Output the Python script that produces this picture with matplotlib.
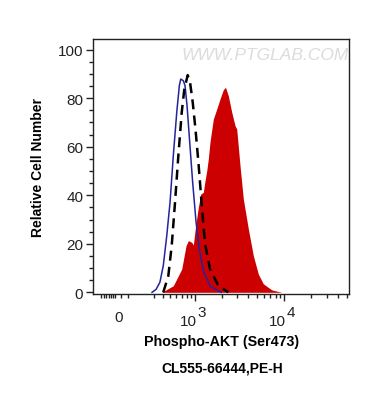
import numpy as np
import matplotlib
matplotlib.use("Agg")
import matplotlib.pyplot as plt
import matplotlib.transforms as mtransforms

plt.rcParams['font.family'] = ['Liberation Sans', 'DejaVu Sans']

# histogram traces (x in fluorescence units, y in % of max)
blue_x = [277, 320, 364, 406, 452, 499, 549, 606, 652, 678, 728, 763, 806,
          862, 935, 1027, 1126, 1268, 1503, 1974]
blue_y = [0, 1.2, 4.1, 11, 23.3, 37.1, 56.3, 74.2, 85.2, 87.9, 87.2, 85.2, 77,
          63, 46, 29, 17, 8, 2.4, 0]

dashed_x = [406, 474, 524, 577, 634, 697, 749, 821, 874, 940, 1013, 1097,
            1194, 1302, 1483, 1841, 2383]
dashed_y = [0, 6.8, 19.2, 37.1, 56.3, 74.2, 83.8, 89.5, 86.6, 78.3, 67, 53,
            36, 20, 9.6, 2.7, 0]

red_x = [386, 549, 697, 784, 835, 915, 955, 1013, 1091, 1163, 1245, 1302,
         1361, 1419, 1483, 1617, 1766, 1923, 2095, 2217, 2383, 2602, 2832,
         2958, 3220, 3504, 3987, 4530, 5150, 5852, 7259, 9376]
red_y = [0, 2.7, 9.6, 19.2, 21.3, 20.6, 19.5, 27, 35, 40.5, 41.2, 46,
         50, 55, 62, 71.4, 75.5, 79.7, 83.5, 84.5, 81, 74.2, 68.7,
         67.3, 52.2, 38.5, 26.1, 15.1, 7.5, 3.5, 1, 0]

x_major = [0, 1000, 10000]
x_exponents = ['', '3', '4']
x_minor = [-140, -115, -100, -75, -60, -45, -30, 15, 70,
           300, 400, 500, 600, 700, 800, 900,
           2000, 3000, 4000, 5000, 6000, 7000, 8000, 9000,
           20000, 30000, 40000, 50000]

# biexponential-like display scale
W = 292.0
def fwd(x):
    return np.arcsinh(np.asarray(x, dtype=float) / W) / np.log(10)

def inv(y):
    return W * np.sinh(np.asarray(y, dtype=float) * np.log(10))

fig = plt.figure(figsize=(3.7, 4.06), dpi=100)
ax = fig.add_axes([0.2514, 0.2734, 0.6919, 0.6281])
ax.set_xscale('function', functions=(fwd, inv))

ax.fill_between(red_x, red_y, 0, color='#cc0000', linewidth=0, zorder=1)
ax.plot(dashed_x, dashed_y, color='black', linewidth=1.8,
        dashes=(4, 2.5), zorder=3)
ax.plot(blue_x, blue_y, color='#24249c', linewidth=1.1, zorder=2)

ax.set_xlim(-209, 52470)
ax.set_ylim(-0.7, 104.4)

ax.set_xticks(x_major)
ax.set_xticklabels([''] * len(x_major))
ax.set_xticks(x_minor, minor=True)
ax.xaxis.get_major_ticks()[0].tick1line.set_visible(False)
ax.set_yticks([0, 20, 40, 60, 80, 100])
ax.set_yticks(np.arange(0, 105, 5), minor=True)

ax.tick_params(axis='both', which='major', direction='out', length=5,
               width=1, labelsize=11, colors='#222222')
ax.tick_params(axis='both', which='minor', direction='out', length=3,
               width=1, colors='#222222')
ax.tick_params(axis='y', which='major', pad=2)
for s in ax.spines.values():
    s.set_linewidth(1)
    s.set_color('#222222')

# x tick labels: "0", and 10 with a large raised exponent
blend = mtransforms.blended_transform_factory(ax.transData, ax.transAxes)
for xv, ex in zip(x_major, x_exponents):
    if ex == '':
        ax.text(xv, -0.09, '0', transform=blend, ha='center', va='center',
                fontsize=11, color='#222222')
    else:
        t_base = mtransforms.offset_copy(blend, fig=fig, x=-7, y=0, units='dots')
        t_exp = mtransforms.offset_copy(blend, fig=fig, x=7, y=9, units='dots')
        ax.text(xv, -0.105, '10', transform=t_base, ha='center', va='center',
                fontsize=11, color='#222222')
        ax.text(xv, -0.105, ex, transform=t_exp, ha='center', va='center',
                fontsize=11, color='#222222')

ax.text(0.672, 0.941, 'WWW.PTGLAB.COM', transform=ax.transAxes,
        ha='center', va='center', fontsize=12.5, color='#dcdcdc',
        style='italic')

ax.set_ylabel('Relative Cell Number', fontsize=10, fontweight='bold',
              labelpad=9)
fig.text(0.6, 0.158, 'Phospho-AKT (Ser473)', ha='center', va='center',
         fontsize=10.3, fontweight='bold')
fig.text(0.6, 0.093, 'CL555-66444,PE-H', ha='center', va='center',
         fontsize=10, fontweight='bold')

fig.savefig('out.png', dpi=100)
